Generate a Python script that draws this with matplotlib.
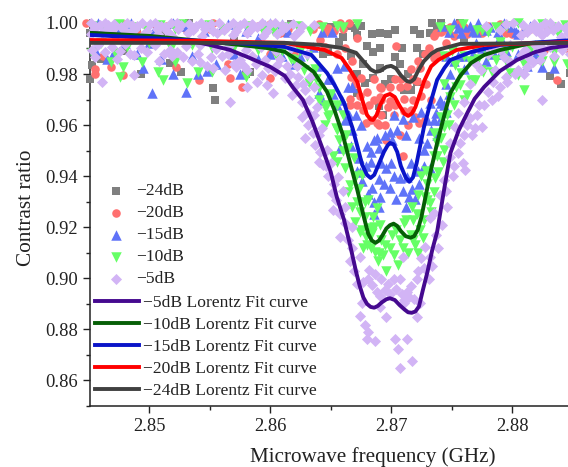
import numpy as np
import matplotlib
matplotlib.use('Agg')
import matplotlib.pyplot as plt
from matplotlib.ticker import MultipleLocator, FormatStrFormatter

plt.rcParams['font.family'] = ['Liberation Serif', 'DejaVu Sans']

# Scatter readings (frequency GHz, contrast ratio)
pts_24db = [
    (2.8451, .9781), (2.8451, .9961), (2.8453, .9836), (2.8460, .9860), (2.8478, .9890), (2.8493, .9801),
    (2.8490, .9985), (2.8517, .9845), (2.8526, .9809), (2.8510, .9960), (2.8533, 1.0000), (2.8553, .9746),
    (2.8554, .9699), (2.8580, .9801), (2.8583, .9809), (2.8570, .9930), (2.8617, .9995), (2.8610, .9960),
    (2.8644, .9879), (2.8648, .9887), (2.8650, .9985), (2.8666, .9990), (2.8670, .9980), (2.8677, .9840),
    (2.8672, .9953), (2.8675, .9988), (2.8678, .9765), (2.8672, .9726), (2.8684, .9957), (2.8685, .9887),
    (2.8691, .9961), (2.8697, .9957), (2.8691, .9902), (2.8691, .9824), (2.8685, .9785), (2.8690, .9675),
    (2.8693, .9640), (2.8703, .9973), (2.8719, .9973), (2.8709, .9902), (2.8703, .9867), (2.8707, .9840),
    (2.8711, .9738), (2.8716, .9738), (2.8721, .9769), (2.8724, .9957), (2.8721, .9902), (2.8732, .9961),
    (2.8734, 1.0000), (2.8741, 1.0000), (2.8757, 1.0000), (2.8790, .9900), (2.8823, .9855), (2.8831, .9793),
    (2.8840, .9762), (2.8848, .9805), (2.8800, .9960), (2.8760, .9930), (2.8660, .9945), (2.8680, .9910),
    (2.8667, .9870), (2.8672, .9800), (2.8695, .9760), (2.8714, .9800), (2.8726, .9880), (2.8738, .9985),
    (2.8746, .9975), (2.8657, .9925), (2.8700, .9780),
]
pts_20db = [
    (2.8448, 1.0000), (2.8455, .9820), (2.8455, .9800), (2.8468, .9828), (2.8478, .9797), (2.8470, .9985),
    (2.8490, .9960), (2.8505, .9995), (2.8522, .9828), (2.8541, .9777), (2.8550, .9975), (2.8553, .9999),
    (2.8565, .9840), (2.8567, .9785), (2.8577, .9750), (2.8600, .9785), (2.8600, .9995), (2.8608, .9960),
    (2.8625, .9990), (2.8641, .9933), (2.8648, .9980), (2.8658, .9999), (2.8665, .9999), (2.8672, .9941),
    (2.8653, .9970), (2.8674, .9715), (2.8666, .9703), (2.8666, .9679), (2.8677, .9659), (2.8683, .9620),
    (2.8688, .9609), (2.8675, .9785), (2.8686, .9781), (2.8691, .9750), (2.8692, .9746), (2.8699, .9750),
    (2.8691, .9711), (2.8692, .9640), (2.8692, .9700), (2.8699, .9695), (2.8703, .9781), (2.8704, .9910),
    (2.8707, .9750), (2.8711, .9655), (2.8707, .9561), (2.8711, .9703), (2.8716, .9820), (2.8716, .9660),
    (2.8710, .9480), (2.8696, .9542), (2.8721, .9772), (2.8724, .9824), (2.8725, .9715), (2.8728, .9620),
    (2.8723, .9610), (2.8735, .9863), (2.8737, .9960), (2.8741, .9965), (2.8745, .9922), (2.8749, .9985),
    (2.8755, .9995), (2.8763, .9955), (2.8780, .9990), (2.8800, .9955), (2.8826, .9895), (2.8837, .9777),
    (2.8845, .9900), (2.8815, .9975), (2.8770, .9900), (2.8660, .9975), (2.8646, .9965), (2.8668, .9850),
    (2.8680, .9730), (2.8670, .9760), (2.8682, .9680), (2.8695, .9600), (2.8702, .9640), (2.8714, .9600),
    (2.8718, .9700), (2.8720, .9630), (2.8729, .9760), (2.8733, .9700), (2.8731, .9900), (2.8738, .9880),
    (2.8752, .9950), (2.8758, .9980), (2.8770, .9975), (2.8790, .9995), (2.8830, .9980), (2.8635, .9975),
    (2.8615, .9975), (2.8590, .9990), (2.8530, .9975), (2.8515, .9990), (2.8480, .9995), (2.8462, .9870),
]
band_20db = [
    (2.8645, .9905), (2.8655, .9880), (2.8662, .9900), (2.8667, .9790), (2.8672, .9680), (2.8679, .9610),
    (2.8686, .9700), (2.8690, .9600), (2.8697, .9670), (2.8703, .9680), (2.8708, .9780), (2.8713, .9755),
    (2.8718, .9780), (2.8722, .9850), (2.8728, .9880), (2.8735, .9950), (2.8748, .9960), (2.8760, .9985),
    (2.8775, .9960), (2.8795, .9960), (2.8810, .9965), (2.8600, .9880), (2.8620, .9880), (2.8640, .9995),
]
pts_15db = [
    (2.8458, 1.0000), (2.8464, .9980), (2.8470, .9880), (2.8485, .9998), (2.8480, .9920), (2.8495, .9824),
    (2.8502, .9725), (2.8503, .9965), (2.8520, .9998), (2.8518, .9900), (2.8520, .9800), (2.8530, .9730),
    (2.8540, .9800), (2.8545, .9970), (2.8548, .9810), (2.8560, .9985), (2.8570, .9880), (2.8580, .9970),
    (2.8590, .9940), (2.8596, .9992), (2.8600, .9998), (2.8600, .9880), (2.8615, .9965), (2.8625, .9870),
    (2.8640, .9726), (2.8643, .9965), (2.8651, .9965), (2.8643, .9699), (2.8659, .9699), (2.8655, .9824),
    (2.8661, .9832), (2.8664, .9750), (2.8668, .9750), (2.8658, .9511), (2.8668, .9581), (2.8671, .9640),
    (2.8683, .9495), (2.8686, .9542), (2.8688, .9550), (2.8692, .9450), (2.8699, .9574), (2.8701, .9542),
    (2.8699, .9355), (2.8684, .9355), (2.8683, .9457), (2.8674, .9417), (2.8696, .9433), (2.8700, .9453),
    (2.8707, .9394), (2.8713, .9398), (2.8715, .9320), (2.8720, .9312), (2.8686, .9250), (2.8723, .9370),
    (2.8732, .9433), (2.8716, .9453), (2.8727, .9503), (2.8723, .9550), (2.8702, .9640), (2.8710, .9624),
    (2.8718, .9632), (2.8732, .9687), (2.8744, .9679), (2.8740, .9620), (2.8733, .9581), (2.8741, .9687),
    (2.8737, .9648), (2.8755, .9980), (2.8765, .9990), (2.8770, .9920), (2.8760, .9870), (2.8778, .9973),
    (2.8785, .9880), (2.8800, .9985), (2.8812, .9830), (2.8825, .9828), (2.8835, .9824), (2.8840, .9950),
    (2.8680, .9520), (2.8690, .9510), (2.8695, .9560), (2.8705, .9580), (2.8712, .9560), (2.8675, .9600),
    (2.8665, .9640), (2.8673, .9470), (2.8679, .9440), (2.8690, .9390), (2.8694, .9370), (2.8702, .9400),
    (2.8710, .9340), (2.8691, .9320), (2.8725, .9650), (2.8730, .9620), (2.8738, .9560), (2.8745, .9760),
    (2.8749, .9800), (2.8755, .9870), (2.8770, .9965), (2.8790, .9945), (2.8805, .9955), (2.8815, .9990),
    (2.8758, .9960), (2.8775, .9900), (2.8795, .9890), (2.8650, .9780), (2.8635, .9905), (2.8610, .9995),
    (2.8565, .9995), (2.8530, .9990), (2.8500, .9920), (2.8475, .9970),
]
band_15db = [
    (2.8742, .9990), (2.8748, .9965), (2.8752, .9998), (2.8760, .9985), (2.8768, .9970), (2.8772, .9998),
    (2.8782, .9985), (2.8788, .9965), (2.8793, .9998), (2.8803, .9965), (2.8810, .9975), (2.8745, .9870),
    (2.8752, .9850), (2.8760, .9820), (2.8768, .9880), (2.8778, .9850), (2.8790, .9880), (2.8805, .9880),
    (2.8820, .9880), (2.8748, .9720), (2.8745, .9650), (2.8740, .9700), (2.8640, .9830), (2.8648, .9780),
    (2.8652, .9720), (2.8655, .9680), (2.8662, .9620), (2.8667, .9520), (2.8672, .9420), (2.8676, .9380),
    (2.8681, .9330), (2.8686, .9300), (2.8690, .9280), (2.8704, .9310), (2.8712, .9280), (2.8717, .9350),
    (2.8722, .9420), (2.8727, .9440), (2.8730, .9530), (2.8735, .9620), (2.8455, .9895), (2.8465, .9860),
    (2.8490, .9880), (2.8510, .9860), (2.8535, .9870), (2.8555, .9840), (2.8575, .9800), (2.8590, .9860),
    (2.8610, .9870), (2.8620, .9840),
]
pts_10db = [
    (2.8453, .9883), (2.8468, .9847), (2.8472, .9883), (2.8476, .9789), (2.8478, .9828), (2.8494, .9847),
    (2.8507, .9808), (2.8511, .9777), (2.8521, .9847), (2.8531, .9765), (2.8540, .9808), (2.8552, .9808),
    (2.8580, .9789), (2.8453, .9990), (2.8464, .9975), (2.8475, .9995), (2.8486, .9985), (2.8497, .9978),
    (2.8509, .9992), (2.8521, .9975), (2.8527, .9995), (2.8538, .9982), (2.8549, .9992), (2.8560, .9978),
    (2.8571, .9985), (2.8581, .9990), (2.8593, .9975), (2.8602, .9968), (2.8612, .9985), (2.8622, .9990),
    (2.8633, .9968), (2.8643, .9985), (2.8655, .9990), (2.8460, .9920), (2.8482, .9905), (2.8500, .9920),
    (2.8518, .9900), (2.8535, .9915), (2.8552, .9900), (2.8570, .9905), (2.8590, .9895), (2.8605, .9875),
    (2.8617, .9860), (2.8628, .9816), (2.8620, .9855), (2.8640, .9746), (2.8645, .9672), (2.8647, .9680),
    (2.8649, .9640), (2.8648, .9632), (2.8654, .9590), (2.8655, .9582), (2.8660, .9640), (2.8664, .9511),
    (2.8655, .9457), (2.8662, .9433), (2.8666, .9367), (2.8664, .9339), (2.8676, .9406), (2.8681, .9308),
    (2.8688, .9277), (2.8685, .9241), (2.8678, .9241), (2.8683, .9198), (2.8691, .9210), (2.8711, .9218),
    (2.8717, .9281), (2.8722, .9327), (2.8730, .9308), (2.8735, .9570), (2.8738, .9531), (2.8744, .9503),
    (2.8743, .9457), (2.8739, .9417), (2.8736, .9394), (2.8735, .9339), (2.8732, .9296), (2.8721, .9250),
    (2.8744, .9593), (2.8746, .9640), (2.8741, .9632), (2.8749, .9711), (2.8754, .9750), (2.8758, .9805),
    (2.8766, .9777), (2.8774, .9816), (2.8787, .9855), (2.8810, .9738), (2.8763, .9718), (2.8757, .9758),
    (2.8769, .9777), (2.8776, .9808), (2.8798, .9805), (2.8805, .9797), (2.8783, .9808), (2.8753, .9836),
    (2.8835, .9848), (2.8676, .9190), (2.8677, .9120), (2.8687, .9105), (2.8699, .9120), (2.8689, .9066),
    (2.8706, .9053), (2.8696, .9027), (2.8720, .9132), (2.8726, .9159), (2.8707, .9151), (2.8692, .9151),
    (2.8701, .9171), (2.8716, .9171), (2.8724, .9190), (2.8684, .9179), (2.8674, .9183), (2.8775, .9973),
    (2.8787, .9984), (2.8812, .9965), (2.8805, 1.0000), (2.8819, .9973), (2.8771, .9973), (2.8832, .9984),
    (2.8844, .9992), (2.8759, .9996), (2.8749, .9973), (2.8800, .9905), (2.8815, .9895), (2.8835, .9888),
    (2.8790, .9925), (2.8770, .9905), (2.8679, .9160), (2.8683, .9120), (2.8690, .9100), (2.8695, .9130),
    (2.8704, .9190), (2.8710, .9120), (2.8714, .9100), (2.8718, .9150), (2.8668, .9280), (2.8672, .9300),
    (2.8670, .9220), (2.8673, .9350), (2.8660, .9500), (2.8657, .9540), (2.8652, .9480), (2.8645, .9600),
    (2.8640, .9700), (2.8638, .9780), (2.8632, .9765), (2.8625, .9890), (2.8610, .9890), (2.8727, .9230),
    (2.8730, .9370), (2.8733, .9260), (2.8738, .9480), (2.8741, .9550), (2.8748, .9600), (2.8752, .9680),
    (2.8760, .9700), (2.8765, .9850), (2.8780, .9870), (2.8795, .9895), (2.8780, .9965), (2.8795, .9990),
    (2.8825, .9995), (2.8838, .9960), (2.8660, .9985), (2.8672, .9995), (2.8740, .9985),
]
band_10db = [
    (2.8744, .9870), (2.8750, .9890), (2.8760, .9870), (2.8772, .9860), (2.8785, .9900), (2.8795, .9850),
    (2.8810, .9840), (2.8825, .9850), (2.8845, .9840), (2.8744, .9760), (2.8735, .9480), (2.8729, .9420),
    (2.8725, .9400), (2.8663, .9560), (2.8669, .9470), (2.8671, .9400), (2.8674, .9260), (2.8678, .9300),
    (2.8680, .9130), (2.8686, .9200), (2.8693, .9090), (2.8702, .9090), (2.8712, .9230), (2.8718, .9230),
    (2.8722, .9100), (2.8728, .9320), (2.8637, .9820), (2.8630, .9870), (2.8650, .9720), (2.8655, .9680),
]
pts_5db = [
    (2.8455, .9988), (2.8466, .9993), (2.8477, .9985), (2.8490, .9990), (2.8501, .9995), (2.8513, .9984),
    (2.8526, .9992), (2.8539, .9987), (2.8551, .9996), (2.8564, .9986), (2.8575, .9991), (2.8589, .9983),
    (2.8600, .9994), (2.8613, .9985), (2.8452, .9955), (2.8461, .9960), (2.8472, .9950), (2.8484, .9962),
    (2.8495, .9952), (2.8507, .9958), (2.8519, .9948), (2.8532, .9960), (2.8544, .9950), (2.8556, .9962),
    (2.8569, .9954), (2.8581, .9960), (2.8594, .9950), (2.8606, .9958), (2.8620, .9948), (2.8458, .9915),
    (2.8469, .9905), (2.8480, .9918), (2.8493, .9900), (2.8505, .9912), (2.8517, .9895), (2.8530, .9908),
    (2.8542, .9915), (2.8555, .9898), (2.8566, .9908), (2.8580, .9895), (2.8592, .9905), (2.8605, .9890),
    (2.8617, .9900), (2.8630, .9880), (2.8455, .9868), (2.8473, .9860), (2.8487, .9875), (2.8508, .9850),
    (2.8523, .9885), (2.8535, .9850), (2.8548, .9830), (2.8560, .9870), (2.8575, .9855), (2.8588, .9840),
    (2.8608, .9860), (2.8622, .9830), (2.8461, .9769), (2.8487, .9798), (2.8567, .9691), (2.8581, .9750),
    (2.8542, .9848), (2.8553, .9824), (2.8563, .9816), (2.8572, .9828), (2.8581, .9816), (2.8589, .9769),
    (2.8597, .9757), (2.8602, .9726), (2.8618, .9718), (2.8626, .9691), (2.8612, .9785), (2.8604, .9810),
    (2.8593, .9797), (2.8621, .9757), (2.8629, .9738), (2.8626, .9632), (2.8635, .9570), (2.8629, .9550),
    (2.8631, .9601), (2.8641, .9496), (2.8640, .9457), (2.8644, .9445), (2.8647, .9503), (2.8637, .9523),
    (2.8656, .9398), (2.8651, .9335), (2.8654, .9308), (2.8652, .9269), (2.8662, .9281), (2.8662, .9218),
    (2.8668, .9202), (2.8658, .9160), (2.8674, .9085), (2.8666, .9066), (2.8672, .8976), (2.8682, .9031),
    (2.8681, .8996), (2.8687, .9015), (2.8692, .8996), (2.8697, .8976), (2.8695, .8956), (2.8688, .8948),
    (2.8691, .8929), (2.8702, .8996), (2.8707, .8996), (2.8710, .9085), (2.8725, .9081), (2.8721, .8996),
    (2.8716, .8968), (2.8713, .8948), (2.8711, .8917), (2.8674, .8854), (2.8678, .8819), (2.8681, .8788),
    (2.8680, .8761), (2.8687, .8753), (2.8696, .8850), (2.8721, .8850), (2.8703, .8764), (2.8713, .8761),
    (2.8706, .8725), (2.8717, .8675), (2.8707, .8647), (2.8676, .8905), (2.8691, .8886), (2.8711, .8905),
    (2.8724, .8905), (2.8731, .8996), (2.8739, .9120), (2.8732, .9085), (2.8728, .9124), (2.8746, .9281),
    (2.8735, .9257), (2.8732, .9238), (2.8749, .9531), (2.8757, .9531), (2.8749, .9476), (2.8759, .9453),
    (2.8761, .9425), (2.8755, .9648), (2.8765, .9629), (2.8775, .9593), (2.8769, .9589), (2.8763, .9601),
    (2.8753, .9593), (2.8744, .9386), (2.8740, .9327), (2.8780, .9730), (2.8790, .9750), (2.8796, .9769),
    (2.8784, .9769), (2.8812, .9828), (2.8805, .9816), (2.8817, .9848), (2.8825, .9883), (2.8831, .9906),
    (2.8841, .9894), (2.8825, .9699), (2.8798, .9848), (2.8786, .9816), (2.8773, .9680), (2.8801, 1.0000),
    (2.8823, .9984), (2.8834, .9973), (2.8844, .9980), (2.8831, 1.0000), (2.8815, .9980), (2.8807, .9953),
    (2.8840, .9945), (2.8825, .9953), (2.8790, .9973), (2.8823, .9855), (2.8835, .9870), (2.8807, .9875),
    (2.8790, .9894), (2.8774, .9816), (2.8844, .9914), (2.8819, .9914), (2.8798, .9914),
]
# the dense band along the top for -5 dB, read as a second pass
band_5db = [
    (2.8452, .9998), (2.8459, .9992), (2.8463, 1.0000), (2.8471, .9996), (2.8482, 1.0000), (2.8486, .9992),
    (2.8494, .9998), (2.8505, 1.0000), (2.8510, .9990), (2.8518, .9998), (2.8523, 1.0000), (2.8533, .9996),
    (2.8543, 1.0000), (2.8547, .9990), (2.8558, .9998), (2.8569, 1.0000), (2.8578, .9998), (2.8585, .9994),
    (2.8593, .9998), (2.8604, 1.0000), (2.8610, .9992), (2.8619, .9994), (2.8626, .9990), (2.8636, .9992),
    (2.8454, .9975), (2.8463, .9970), (2.8470, .9978), (2.8479, .9972), (2.8488, .9976), (2.8498, .9970),
    (2.8506, .9975), (2.8515, .9970), (2.8524, .9976), (2.8536, .9972), (2.8546, .9976), (2.8553, .9970),
    (2.8562, .9974), (2.8572, .9970), (2.8584, .9975), (2.8597, .9970), (2.8610, .9974), (2.8624, .9968),
    (2.8453, .9895), (2.8463, .9885), (2.8476, .9890), (2.8484, .9880), (2.8498, .9885), (2.8512, .9878),
    (2.8519, .9870), (2.8528, .9865), (2.8540, .9880), (2.8551, .9865), (2.8565, .9880), (2.8570, .9840),
    (2.8578, .9830), (2.8585, .9870), (2.8596, .9855), (2.8598, .9825), (2.8606, .9835), (2.8614, .9830),
    (2.8616, .9800), (2.8623, .9790), (2.8633, .9790), (2.8636, .9750), (2.8627, .9760), (2.8632, .9700),
    (2.8639, .9670), (2.8636, .9640), (2.8630, .9650), (2.8643, .9590), (2.8640, .9560), (2.8646, .9440),
    (2.8648, .9400), (2.8650, .9450), (2.8653, .9370), (2.8660, .9340), (2.8658, .9250), (2.8664, .9150),
    (2.8668, .9120), (2.8669, .9030), (2.8677, .8985), (2.8684, .8975), (2.8699, .8940), (2.8704, .8960),
    (2.8709, .8940), (2.8715, .8925), (2.8719, .8920), (2.8722, .9030), (2.8727, .9040), (2.8734, .9050),
    (2.8737, .9170), (2.8742, .9210), (2.8745, .9340), (2.8751, .9400), (2.8752, .9440), (2.8755, .9490),
    (2.8760, .9560), (2.8767, .9560), (2.8771, .9640), (2.8777, .9680), (2.8783, .9700), (2.8788, .9715),
    (2.8795, .9790), (2.8802, .9800), (2.8810, .9800), (2.8815, .9860), (2.8825, .9900), (2.8811, .9895),
    (2.8785, .9900), (2.8793, .9865), (2.8780, .9880), (2.8770, .9840), (2.8765, .9760), (2.8760, .9690),
    (2.8795, .9995), (2.8809, .9992), (2.8818, .9995), (2.8827, .9998), (2.8838, .9990), (2.8848, .9996),
    (2.8812, .9965), (2.8820, .9968), (2.8829, .9970), (2.8846, .9960), (2.8778, .9990), (2.8848, .9880),
]

# Fit curves
f_5db = [2.8451, 2.8501, 2.8534, 2.8550, 2.8567, 2.8583, 2.8600, 2.8612, 2.8619, 2.8627, 2.8635, 2.8643, 2.8650,
         2.8655, 2.8661, 2.8666, 2.8671, 2.8674, 2.8677, 2.8680, 2.8683, 2.8686, 2.8689, 2.8692, 2.8696, 2.8699,
         2.8703, 2.8707, 2.8711, 2.8714, 2.8717, 2.8720, 2.8723, 2.8726, 2.8730, 2.8734, 2.8738, 2.8744, 2.8749,
         2.8756, 2.8763, 2.8769, 2.8777, 2.8790, 2.8804, 2.8819, 2.8832, 2.8850]
c_5db = [.9961, .9945, .9930, .9914, .9894, .9863, .9828, .9793, .9746, .9699, .9613, .9511, .9417,
         .9319, .9229, .9131, .9025, .8970, .8925, .8900, .8888, .8885, .8892, .8905, .8918, .8922,
         .8915, .8895, .8878, .8867, .8865, .8870, .8890, .8950, .9025, .9112, .9182, .9354, .9491,
         .9581, .9648, .9703, .9750, .9812, .9855, .9886, .9902, .9914]
f_10db = [2.8451, 2.8501, 2.8542, 2.8575, 2.8597, 2.8612, 2.8625, 2.8636, 2.8647, 2.8653, 2.8660, 2.8666, 2.8672,
          2.8678, 2.8681, 2.8684, 2.8687, 2.8690, 2.8693, 2.8696, 2.8699, 2.8702, 2.8705, 2.8708, 2.8712, 2.8716,
          2.8719, 2.8722, 2.8725, 2.8728, 2.8732, 2.8738, 2.8744, 2.8749, 2.8757, 2.8766, 2.8777, 2.8790, 2.8817,
          2.8850]
c_10db = [.9961, .9949, .9930, .9914, .9902, .9887, .9847, .9808, .9730, .9660, .9562, .9452, .9346,
          .9229, .9175, .9148, .9139, .9148, .9170, .9195, .9208, .9214, .9205, .9185, .9165, .9159,
          .9165, .9190, .9240, .9310, .9405, .9530, .9640, .9726, .9793, .9843, .9875, .9894, .9922,
          .9930]
f_15db = [2.8451, 2.8501, 2.8542, 2.8583, 2.8612, 2.8634, 2.8647, 2.8654, 2.8661, 2.8668, 2.8673, 2.8676, 2.8680,
          2.8683, 2.8686, 2.8690, 2.8694, 2.8697, 2.8699, 2.8702, 2.8705, 2.8708, 2.8712, 2.8715, 2.8718, 2.8721,
          2.8724, 2.8727, 2.8732, 2.8738, 2.8744, 2.8749, 2.8766, 2.8790, 2.8850]
c_15db = [.9953, .9941, .9930, .9918, .9906, .9875, .9804, .9750, .9687, .9589, .9500, .9445, .9405,
          .9393, .9405, .9450, .9495, .9520, .9530, .9525, .9495, .9440, .9395, .9378, .9395, .9450,
          .9520, .9590, .9679, .9777, .9824, .9855, .9886, .9914, .9933]
f_20db = [2.8451, 2.8542, 2.8612, 2.8645, 2.8659, 2.8666, 2.8672, 2.8676, 2.8680, 2.8683, 2.8685, 2.8688, 2.8691,
          2.8695, 2.8699, 2.8703, 2.8707, 2.8711, 2.8714, 2.8717, 2.8720, 2.8724, 2.8727, 2.8733, 2.8739, 2.8754,
          2.8777, 2.8850]
c_20db = [.9933, .9930, .9922, .9894, .9863, .9816, .9769, .9700, .9640, .9622, .9620, .9640, .9680,
          .9715, .9722, .9710, .9675, .9645, .9636, .9645, .9670, .9725, .9770, .9830, .9855, .9894,
          .9914, .9926]
f_24db = [2.8451, 2.8612, 2.8642, 2.8659, 2.8671, 2.8678, 2.8683, 2.8687, 2.8691, 2.8696, 2.8700, 2.8704, 2.8708,
          2.8713, 2.8716, 2.8719, 2.8722, 2.8727, 2.8733, 2.8738, 2.8757, 2.8850]
c_24db = [.9922, .9922, .9914, .9902, .9883, .9845, .9818, .9808, .9812, .9828, .9832, .9822, .9795,
          .9772, .9769, .9780, .9810, .9850, .9879, .9894, .9918, .9922]

fig = plt.figure(figsize=(5.68, 4.67), dpi=100)
ax = fig.add_axes([90 / 568, 61 / 467, 482.6 / 568, 385.6 / 467])

# points first, weakest signal at the bottom
s1 = ax.scatter(*zip(*pts_24db), marker='s', s=28, color='#7f7f7f', linewidths=0, clip_on=False, zorder=3)
s2 = ax.scatter(*zip(*(pts_20db + band_20db)), marker='o', s=38, color='#ff7070', linewidths=0, clip_on=False,
                zorder=3.1)
s3 = ax.scatter(*zip(*(pts_15db + band_15db)), marker='^', s=57, color='#5f73f8', linewidths=0, clip_on=False,
                zorder=3.2)
s4 = ax.scatter(*zip(*(pts_10db + band_10db)), marker='v', s=57, color='#66ff66', linewidths=0, clip_on=False,
                zorder=3.3)
s5 = ax.scatter(*zip(*(pts_5db + band_5db)), marker='D', s=32, color='#d2b4f5', linewidths=0, clip_on=False,
                zorder=3.4)

l5, = ax.plot(f_5db, c_5db, color='#45098f', lw=2.8, zorder=4)
l10, = ax.plot(f_10db, c_10db, color='#065f06', lw=2.8, zorder=4.1)
l15, = ax.plot(f_15db, c_15db, color='#0a14c8', lw=2.8, zorder=4.2)
l20, = ax.plot(f_20db, c_20db, color='#ff0000', lw=2.8, zorder=4.3)
l24, = ax.plot(f_24db, c_24db, color='#404040', lw=2.8, zorder=4.4)

ax.set_xlim(2.8451, 2.885)
ax.set_ylim(0.85, 1.001)
ax.xaxis.set_major_locator(MultipleLocator(0.01))
ax.xaxis.set_minor_locator(MultipleLocator(0.005))
ax.yaxis.set_major_locator(MultipleLocator(0.02))
ax.yaxis.set_minor_locator(MultipleLocator(0.01))
ax.yaxis.set_major_formatter(FormatStrFormatter('%.2f'))
ax.xaxis.set_major_formatter(FormatStrFormatter('%.2f'))
ax.tick_params(which='major', length=5, width=1, labelsize=13.3, colors='#222222')
ax.tick_params(which='minor', length=3, width=1, colors='#222222')
ax.spines['top'].set_visible(False)
ax.spines['right'].set_visible(False)
ax.spines['left'].set_linewidth(1.1)
ax.spines['bottom'].set_linewidth(1.1)
ax.spines['left'].set_color('#222222')
ax.spines['bottom'].set_color('#222222')

ax.set_xlabel('Microwave frequency (GHz)', fontsize=15.2, color='#222222')
ax.set_ylabel('Contrast ratio', fontsize=15.3, color='#222222')
ax.xaxis.set_label_coords(0.585, -0.106)
ax.yaxis.set_label_coords(-0.112, 0.513)

leg1 = ax.legend([s1, s2, s3, s4, s5], ['\u221224dB', '\u221220dB', '\u221215dB', '\u221210dB', '\u22125dB'],
                 loc='upper left', bbox_to_anchor=(10 / 482.6, 1 - (183 - 20.4) / 385.6), frameon=False,
                 fontsize=12.6, borderpad=0, borderaxespad=0, handlelength=1.83, handletextpad=0.23,
                 labelspacing=0.33, labelcolor='#222222', scatterpoints=1)
ax.add_artist(leg1)
ax.legend([l5, l10, l15, l20, l24],
          ['\u22125dB Lorentz Fit curve', '\u221210dB Lorentz Fit curve', '\u221215dB Lorentz Fit curve',
           '\u221220dB Lorentz Fit curve', '\u221224dB Lorentz Fit curve'],
          loc='upper left', bbox_to_anchor=(5 / 482.6, 1 - (295 - 20.4) / 385.6), frameon=False,
          fontsize=12.6, borderpad=0, borderaxespad=0, handlelength=2.5, handletextpad=0.23,
          labelspacing=0.33, labelcolor='#222222')

fig.savefig('out.png', dpi=100)
